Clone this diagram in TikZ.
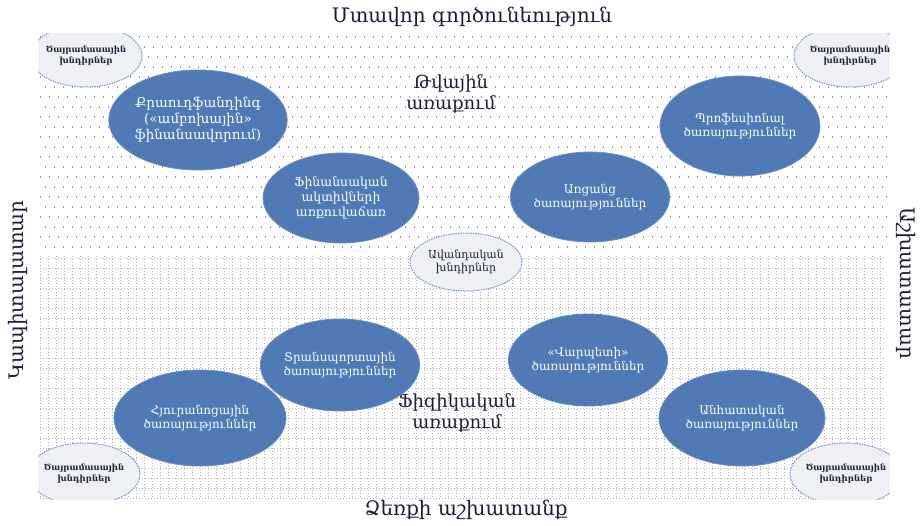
\documentclass[tikz,border=0pt]{standalone}
\usepackage{fontspec}
\setmainfont{DejaVu Serif}
\usetikzlibrary{shapes.geometric}
\definecolor{cblue}{HTML}{4F7AB6}
\definecolor{cedge}{HTML}{6B8FC4}
\definecolor{ink}{HTML}{1C2033}
\definecolor{pale}{HTML}{EEF0F4}
\definecolor{dotc}{HTML}{9A9A9A}
\tikzset{
  bubble/.style={ellipse, fill=cblue, draw=cedge, line width=0.8pt, text=white, align=center,
    inner sep=0pt, font=\fontsize{12}{14.5}\selectfont},
  minor/.style={ellipse, fill=pale, draw=cblue!80, dashed, dash pattern=on 1.5pt off 1pt, line width=1pt,
    text=ink, align=center, inner sep=0pt, font=\fontsize{8}{10}\selectfont\bfseries},
  cornertext/.style={text=ink, align=center, font=\fontsize{8.5}{11}\selectfont\bfseries},
  axis/.style={text=ink, font=\fontsize{20}{22}\selectfont},
  zone/.style={text=ink, align=center, font=\fontsize{18}{21}\selectfont},
  dotrow/.style={draw=dotc, line width=1.1pt, dash pattern=on 1.1pt off 7.9pt},
  gridv/.style={draw=dotc!75, line width=0.6pt, dash pattern=on 0.6pt off 2.4pt},
  gridh/.style={draw=dotc!75, line width=0.6pt, dash pattern=on 0.6pt off 2.4pt},
}
\begin{document}
\begin{tikzpicture}[x=1pt,y=-1pt]
\useasboundingbox (0,0) rectangle (924,525);
\fill[white] (0,0) rectangle (924,525);
% upper field: sparse dots
\foreach \r in {0,...,21}{
  \pgfmathsetmacro{\yy}{37+\r*10}
  \pgfmathsetmacro{\ph}{mod(\r,2)*4.5}
  \draw[dotrow, dash phase=\ph pt] (40,\yy) -- (888,\yy);
}
% lower field: dotted grid
\foreach \c in {0,...,105}{
  \pgfmathsetmacro{\xx}{40+\c*8}
  \draw[gridv] (\xx,256) -- (\xx,497);
}
\foreach \r in {0,...,24}{
  \pgfmathsetmacro{\yy}{258+\r*10}
  \draw[gridh] (40,\yy) -- (886,\yy);
}
% corner ellipses (clipped by the field)
\begin{scope}
  \clip (38,33) rectangle (890,499);
  \node[minor, minimum width=112pt, minimum height=62pt] (tl) at (86,56) {};
  \node[minor, minimum width=112pt, minimum height=62pt] (tr) at (850,56) {};
  \node[minor, minimum width=112pt, minimum height=62pt] (bl) at (84,474) {};
  \node[minor, minimum width=112pt, minimum height=62pt] (br) at (846,474) {};
\end{scope}
\node[cornertext] (tlt) at (86,56) {Ծայրամասային\\խնդիրներ};
\node[cornertext] (trt) at (850,56) {Ծայրամասային\\խնդիրներ};
\node[cornertext] (blt) at (84,474) {Ծայրամասային\\խնդիրներ};
\node[cornertext] (brt) at (846,474) {Ծայրամասային\\խնդիրներ};
% axis labels
\node[axis] (top) at (472,17) {Մտավոր գործունեություն};
\node[axis] (bot) at (466,510) {Ձեռքի աշխատանք};
\node[axis, rotate=90] (left) at (18,290) {Կապիտալատար};
\node[axis, rotate=-90] (right) at (906,283) {Աշխատատար};
% zone labels
\node[zone] (digital) at (451,94) {Թվային\\առաքում};
\node[zone] (physical) at (457,413) {Ֆիզիկական\\առաքում};
% blue ellipses
\node[bubble, minimum width=172pt, minimum height=100pt, font=\fontsize{13.5}{16}\selectfont] (crowd) at (198,120) {Քրաուդֆանդինգ\\(«ամբոխային»\\ֆինանսավորում)};
\node[bubble, minimum width=160pt, minimum height=100pt] (prof) at (740,126) {Պրոֆեսիոնալ\\ծառայություններ};
\node[bubble, minimum width=156pt, minimum height=90pt, font=\fontsize{12.5}{15}\selectfont] (fin) at (341,198) {Ֆինանսական\\ակտիվների\\առքուվաճառ};
\node[bubble, minimum width=152pt, minimum height=90pt] (online) at (590,197) {Առցանց\\ծառայություններ};
\node[minor, minimum width=112pt, minimum height=58pt, font=\fontsize{11}{13}\selectfont] (core) at (466,262) {Ավանդական\\խնդիրներ};
\node[bubble, minimum width=156pt, minimum height=92pt] (trans) at (340,365) {Տրանսպորտային\\ծառայություններ};
\node[bubble, minimum width=156pt, minimum height=92pt] (master) at (588,360) {«Վարպետի»\\ծառայություններ};
\node[bubble, minimum width=172pt, minimum height=96pt] (hotel) at (200,418) {Հյուրանոցային\\ծառայություններ};
\node[bubble, minimum width=166pt, minimum height=96pt] (pers) at (742,418) {Անհատական\\ծառայություններ};
\end{tikzpicture}
\end{document}
